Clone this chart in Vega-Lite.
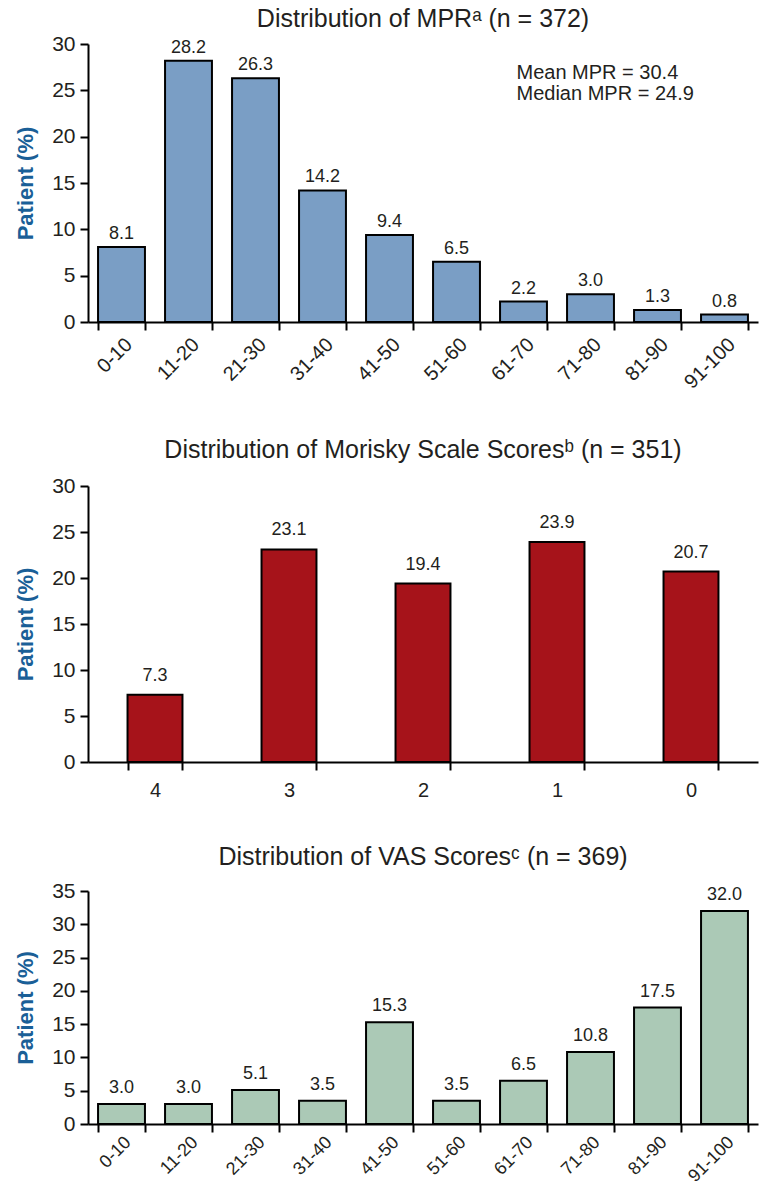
{
  "$schema": "https://vega.github.io/schema/vega-lite/v6.json",
  "padding": {"left": 14, "top": 7, "right": 5, "bottom": 0},
  "spacing": 45,
  "config": {
    "view": {"stroke": null},
    "font": "Liberation Sans",
    "axis": {
      "grid": false,
      "domainColor": "#000000",
      "domainWidth": 2,
      "tickColor": "#000000",
      "tickWidth": 2,
      "tickSize": 8,
      "labelColor": "#231f20",
      "labelFont": "Liberation Sans",
      "titleFont": "Liberation Sans"
    },
    "axisY": {
      "labelFontSize": 21,
      "labelPadding": 5,
      "titleFontSize": 22,
      "titleFontWeight": "bold",
      "titleColor": "#1a5f97",
      "titlePadding": 14
    },
    "axisX": {"labelFontSize": 20, "labelPadding": 4},
    "title": {"fontSize": 25, "fontWeight": "normal", "color": "#231f20", "anchor": "middle", "font": "Liberation Sans"},
    "text": {"font": "Liberation Sans", "color": "#231f20"}
  },
  "vconcat": [
    {
      "title": {"text": "Distribution of MPRᵃ (n = 372)", "offset": 1},
      "width": 670,
      "height": 278,
      "data": {"values": [
        {"range": "0-10", "pct": 8.1},
        {"range": "11-20", "pct": 28.2},
        {"range": "21-30", "pct": 26.3},
        {"range": "31-40", "pct": 14.2},
        {"range": "41-50", "pct": 9.4},
        {"range": "51-60", "pct": 6.5},
        {"range": "61-70", "pct": 2.2},
        {"range": "71-80", "pct": 3.0},
        {"range": "81-90", "pct": 1.3},
        {"range": "91-100", "pct": 0.8}
      ]},
      "encoding": {
        "x": {"field": "range", "type": "nominal", "sort": null,
              "scale": {"paddingInner": 0.3, "paddingOuter": 0.15},
              "axis": {"title": null, "labelAngle": -45, "tickBand": "extent"}},
        "y": {"field": "pct", "type": "quantitative",
              "scale": {"domain": [0, 30]},
              "axis": {"title": "Patient (%)", "values": [0, 5, 10, 15, 20, 25, 30]}}
      },
      "layer": [
        {"mark": {"type": "bar", "color": "#7a9ec5", "stroke": "#000000", "strokeWidth": 2}},
        {"mark": {"type": "text", "baseline": "middle", "dy": -13, "fontSize": 18},
         "encoding": {"text": {"field": "pct", "type": "quantitative", "format": ".1f"}}},
        {"transform": [{"filter": "datum.range == '61-70'"}],
         "mark": {"type": "text", "align": "left", "baseline": "middle", "fontSize": 20, "dx": -7},
         "encoding": {"y": {"datum": 26.9}, "text": {"value": "Mean MPR = 30.4"}}},
        {"transform": [{"filter": "datum.range == '61-70'"}],
         "mark": {"type": "text", "align": "left", "baseline": "middle", "fontSize": 20, "dx": -7},
         "encoding": {"y": {"datum": 24.6}, "text": {"value": "Median MPR = 24.9"}}}
      ]
    },
    {
      "title": {"text": "Distribution of Morisky Scale Scoresᵇ (n = 351)", "offset": 12},
      "width": 670,
      "height": 276,
      "data": {"values": [
        {"score": "4", "pct": 7.3},
        {"score": "3", "pct": 23.1},
        {"score": "2", "pct": 19.4},
        {"score": "1", "pct": 23.9},
        {"score": "0", "pct": 20.7}
      ]},
      "encoding": {
        "x": {"field": "score", "type": "nominal", "sort": null,
              "scale": {"paddingInner": 0.59, "paddingOuter": 0.295},
              "axis": {"title": null, "labelAngle": 0, "tickBand": "extent", "labelFontSize": 20, "labelPadding": 10}},
        "y": {"field": "pct", "type": "quantitative",
              "scale": {"domain": [0, 30]},
              "axis": {"title": "Patient (%)", "values": [0, 5, 10, 15, 20, 25, 30]}}
      },
      "layer": [
        {"mark": {"type": "bar", "color": "#a6131a", "stroke": "#000000", "strokeWidth": 2}},
        {"mark": {"type": "text", "baseline": "middle", "dy": -19, "fontSize": 18},
         "encoding": {"text": {"field": "pct", "type": "quantitative", "format": ".1f"}}}
      ]
    },
    {
      "title": {"text": "Distribution of VAS Scoresᶜ (n = 369)", "offset": 10},
      "width": 670,
      "height": 233,
      "data": {"values": [
        {"range": "0-10", "pct": 3.0},
        {"range": "11-20", "pct": 3.0},
        {"range": "21-30", "pct": 5.1},
        {"range": "31-40", "pct": 3.5},
        {"range": "41-50", "pct": 15.3},
        {"range": "51-60", "pct": 3.5},
        {"range": "61-70", "pct": 6.5},
        {"range": "71-80", "pct": 10.8},
        {"range": "81-90", "pct": 17.5},
        {"range": "91-100", "pct": 32.0}
      ]},
      "encoding": {
        "x": {"field": "range", "type": "nominal", "sort": null,
              "scale": {"paddingInner": 0.3, "paddingOuter": 0.15},
              "axis": {"title": null, "labelAngle": -45, "tickBand": "extent", "labelFontSize": 18, "labelPadding": 1}},
        "y": {"field": "pct", "type": "quantitative",
              "scale": {"domain": [0, 35]},
              "axis": {"title": "Patient (%)", "values": [0, 5, 10, 15, 20, 25, 30, 35]}}
      },
      "layer": [
        {"mark": {"type": "bar", "color": "#abc9b6", "stroke": "#000000", "strokeWidth": 2}},
        {"mark": {"type": "text", "baseline": "middle", "dy": -16, "fontSize": 18},
         "encoding": {"text": {"field": "pct", "type": "quantitative", "format": ".1f"}}}
      ]
    }
  ]
}
